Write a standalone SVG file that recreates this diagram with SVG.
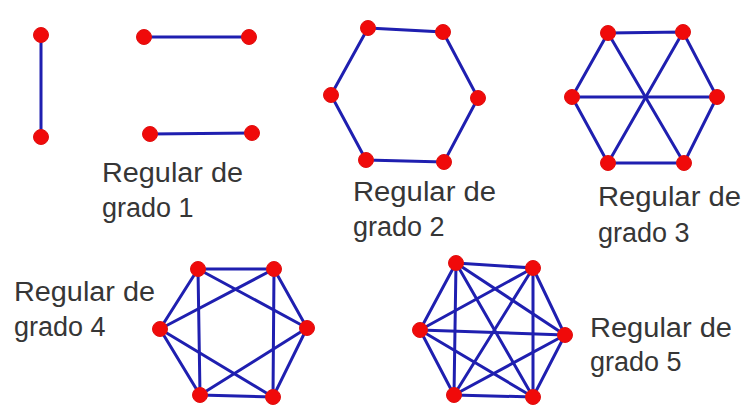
<svg xmlns="http://www.w3.org/2000/svg" width="744" height="412" viewBox="0 0 744 412">
<style>
.e{stroke:#1f1fb0;stroke-width:3;stroke-linecap:round;fill:none}
.n{fill:#f00a0a;stroke:#e01010;stroke-width:1}
.t{font-family:"Liberation Sans",Arial,sans-serif;font-size:27px;fill:#363636}
</style>
<rect width="744" height="412" fill="#fff"/>
<g id="connectors">
<!-- grado 1 -->
<line class="e" x1="41" y1="35" x2="41" y2="137"/>
<line class="e" x1="144" y1="37" x2="249" y2="37"/>
<line class="e" x1="150" y1="134" x2="252" y2="133"/>
<!-- grado 2 -->
<polyline class="e" points="368,28 443,32 478,98 444,162 366,160 331,95 368,28"/>
<!-- grado 3 -->
<polyline class="e" points="608,33 683,32 717,97 684,163 608,163 572,97 608,33"/>
<line class="e" x1="608" y1="33" x2="684" y2="163"/>
<line class="e" x1="683" y1="32" x2="608" y2="163"/>
<line class="e" x1="572" y1="97" x2="717" y2="97"/>
<!-- grado 4 -->
<polyline class="e" points="198,269 274,269 307,328 273,397 200,395 160,329 198,269"/>
<line class="e" x1="198" y1="269" x2="200" y2="395"/>
<line class="e" x1="274" y1="269" x2="273" y2="397"/>
<line class="e" x1="198" y1="269" x2="307" y2="328"/>
<line class="e" x1="274" y1="269" x2="160" y2="329"/>
<line class="e" x1="160" y1="329" x2="273" y2="397"/>
<line class="e" x1="200" y1="395" x2="307" y2="328"/>
<!-- grado 5 -->
<polyline class="e" points="456,263 533,268 565,335 533,397 454,395 420,330 456,263"/>
<line class="e" x1="456" y1="263" x2="565" y2="335"/>
<line class="e" x1="456" y1="263" x2="533" y2="397"/>
<line class="e" x1="456" y1="263" x2="454" y2="395"/>
<line class="e" x1="533" y1="268" x2="533" y2="397"/>
<line class="e" x1="533" y1="268" x2="454" y2="395"/>
<line class="e" x1="533" y1="268" x2="420" y2="330"/>
<line class="e" x1="565" y1="335" x2="454" y2="395"/>
<line class="e" x1="565" y1="335" x2="420" y2="330"/>
<line class="e" x1="533" y1="397" x2="420" y2="330"/>
</g>
<g id="g1">
<circle class="n" cx="41" cy="35" r="7.5"/>
<circle class="n" cx="41" cy="137" r="7.5"/>
<circle class="n" cx="144" cy="37" r="7.5"/>
<circle class="n" cx="249" cy="37" r="7.5"/>
<circle class="n" cx="150" cy="134" r="7.5"/>
<circle class="n" cx="252" cy="133" r="7.5"/>
<text class="t" x="102" y="182" textLength="141" lengthAdjust="spacingAndGlyphs">Regular de</text>
<text class="t" x="102" y="217">grado 1</text>
</g>
<g id="g2">
<circle class="n" cx="368" cy="28" r="7.5"/>
<circle class="n" cx="443" cy="32" r="7.5"/>
<circle class="n" cx="478" cy="98" r="7.5"/>
<circle class="n" cx="444" cy="162" r="7.5"/>
<circle class="n" cx="366" cy="160" r="7.5"/>
<circle class="n" cx="331" cy="95" r="7.5"/>
<text class="t" x="353" y="201" textLength="143" lengthAdjust="spacingAndGlyphs">Regular de</text>
<text class="t" x="353" y="236">grado 2</text>
</g>
<g id="g3">
<circle class="n" cx="608" cy="33" r="7.5"/>
<circle class="n" cx="683" cy="32" r="7.5"/>
<circle class="n" cx="717" cy="97" r="7.5"/>
<circle class="n" cx="684" cy="163" r="7.5"/>
<circle class="n" cx="608" cy="163" r="7.5"/>
<circle class="n" cx="572" cy="97" r="7.5"/>
<text class="t" x="598" y="206" textLength="143" lengthAdjust="spacingAndGlyphs">Regular de</text>
<text class="t" x="598" y="242">grado 3</text>
</g>
<g id="g4">
<circle class="n" cx="198" cy="269" r="7.5"/>
<circle class="n" cx="274" cy="269" r="7.5"/>
<circle class="n" cx="307" cy="328" r="7.5"/>
<circle class="n" cx="273" cy="397" r="7.5"/>
<circle class="n" cx="200" cy="395" r="7.5"/>
<circle class="n" cx="160" cy="329" r="7.5"/>
<text class="t" x="14" y="301" textLength="141" lengthAdjust="spacingAndGlyphs">Regular de</text>
<text class="t" x="14" y="336">grado 4</text>
</g>
<g id="g5">
<circle class="n" cx="456" cy="263" r="7.5"/>
<circle class="n" cx="533" cy="268" r="7.5"/>
<circle class="n" cx="565" cy="335" r="7.5"/>
<circle class="n" cx="533" cy="397" r="7.5"/>
<circle class="n" cx="454" cy="395" r="7.5"/>
<circle class="n" cx="420" cy="330" r="7.5"/>
<text class="t" x="590" y="337" textLength="142" lengthAdjust="spacingAndGlyphs">Regular de</text>
<text class="t" x="590" y="371">grado 5</text>
</g>
</svg>
